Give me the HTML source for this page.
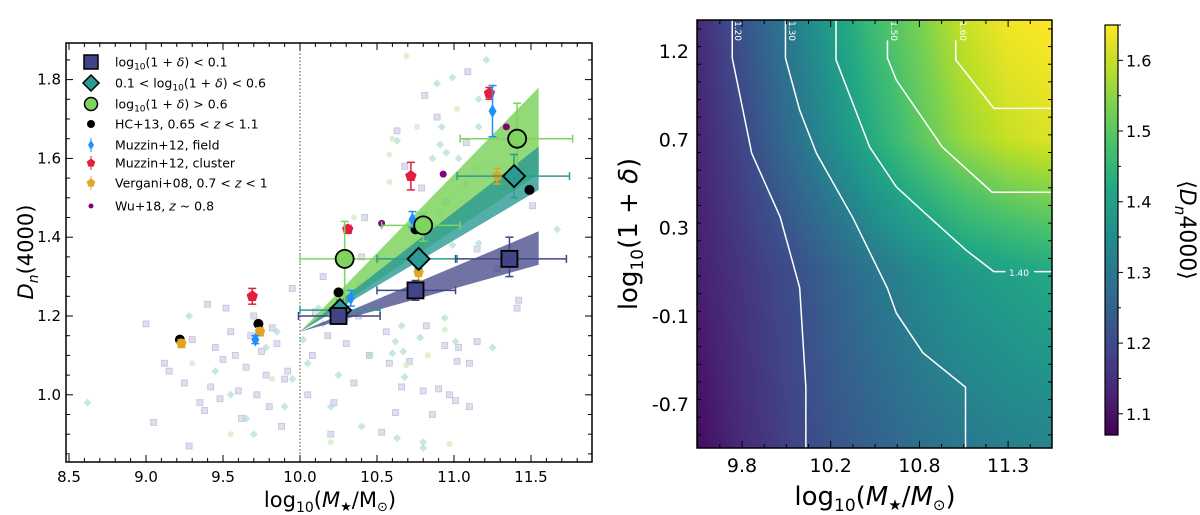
<!DOCTYPE html>
<html><head><meta charset="utf-8">
<style>
body{margin:0;background:#fff;width:1200px;height:515px;overflow:hidden}
svg{position:absolute;left:0;top:0}
text{font-family:"DejaVu Sans","Liberation Sans",sans-serif}
</style></head>
<body>
<canvas id="heat" width="355" height="428" style="position:absolute;left:697px;top:20px"></canvas>
<svg id="chart" width="1200" height="515"></svg>
<script>
// ---------- LEFT PANEL DATA ----------
const sqMass=[10.25,10.75,11.36], sqD=[1.20,1.265,1.345], sqXlo=[9.99,10.5,11.01], sqXhi=[10.52,11.01,11.73], sqYlo=[1.18,1.24,1.30], sqYhi=[1.22,1.29,1.40];
const diMass=[10.26,10.77,11.39], diD=[1.215,1.345,1.555], diXlo=[10.0,10.5,11.02], diXhi=[10.52,11.02,11.75], diYlo=[1.19,1.32,1.50], diYhi=[1.24,1.37,1.61];
const ciMass=[10.29,10.80,11.41], ciD=[1.345,1.43,1.65], ciXlo=[10.0,10.53,11.04], ciXhi=[10.51,11.04,11.77], ciYlo=[1.19,1.39,1.56], ciYhi=[1.44,1.46,1.74];
const bandEndMass=11.55, bandStart=[10.0,1.16];
const bandBlue=[1.33,1.415], bandTeal=[1.52,1.63], bandGreen=[1.56,1.78];
const hcMass=[9.22,9.73,10.25,10.75,11.49], hcD=[1.14,1.18,1.26,1.42,1.52];
const mfMass=[9.71,10.33,10.73,11.25], mfD=[1.14,1.245,1.445,1.72], mfErr=[0.01,0.02,0.02,0.065];
const mcMass=[9.69,10.31,10.72,11.23], mcD=[1.25,1.42,1.555,1.765], mcErr=[0.02,0.01,0.035,0.015];
const vgMass=[9.23,9.74,10.25,10.77,11.28], vgD=[1.13,1.16,1.22,1.31,1.555], vgErr=[0.01,0.01,0.01,0.02,0.02];
const wuMass=[10.53,10.93,11.34], wuD=[1.435,1.56,1.68];
const bgSqM=[9.0,9.05,9.15,9.25,9.3,9.35,9.4,9.45,9.5,9.55,9.6,9.62,9.65,9.7,9.75,9.8,9.85,9.9,9.95,9.48,9.58,9.68,9.78,9.88,9.38,9.28,9.12,9.42,9.52,9.72,9.82,9.92,10.05,10.1,10.15,10.2,10.3,10.35,10.4,10.45,10.08,10.22,10.38,10.42,10.18,
 11.09,10.81,10.89,10.63,11.08,10.68,10.79,10.95,11.51,11.15,11.28,11.42,11.41,10.56,10.82,10.94,11.15,11.03,10.58,10.71,11.02,11.1,10.66,10.8,10.9,10.97,11.01,11.1,10.62,10.86,10.53];
const bgSqD=[1.18,0.93,1.06,1.03,1.14,0.98,1.23,1.12,1.09,1.16,1.01,0.94,1.07,1.2,1.11,0.97,1.13,1.04,1.27,0.99,1.1,1.15,1.05,0.92,0.96,0.87,1.08,1.02,1.22,1.0,1.17,1.06,1.0,1.21,1.3,0.9,1.13,1.03,1.35,1.1,1.1,0.98,1.2,1.45,1.15,
 1.82,1.76,1.705,1.67,1.64,1.58,1.525,1.49,1.48,1.37,1.32,1.24,1.22,1.16,1.175,1.125,1.135,1.12,1.08,1.085,1.085,1.08,1.02,1.01,1.015,1.0,0.985,0.97,0.955,0.95,0.905];
const bgDiM=[8.62,9.28,9.55,9.65,9.78,9.85,9.95,10.02,10.12,10.2,10.3,10.38,10.45,9.45,9.7,9.9,10.05,10.25,10.4,10.15,
 11.21,10.89,10.99,11.16,10.92,11.16,10.63,10.91,10.95,10.86,11.03,11.15,11.08,10.91,11.16,11.67,10.99,10.94,10.66,10.78,11.25,10.62,10.67,10.6,11.01,10.68,10.63,10.8,10.8];
const bgDiD=[0.98,1.2,1.0,0.94,1.12,1.16,1.04,1.14,1.22,0.97,1.35,1.28,1.1,1.06,0.9,0.97,1.08,1.05,0.92,1.18,
 1.85,1.79,1.805,1.75,1.68,1.68,1.645,1.635,1.615,1.6,1.6,1.575,1.535,1.46,1.385,1.42,1.38,1.195,1.175,1.145,1.12,1.135,1.11,1.105,1.135,1.045,0.89,0.88,0.865];
const bgCiM=[9.3,9.55,9.82,10.1,10.35,10.2,10.69,11.02,10.6,10.58,10.58,10.76,10.94,10.83,10.97,10.69];
const bgCiD=[1.08,0.9,1.04,1.2,1.45,0.88,1.86,1.725,1.65,1.61,1.54,1.68,1.165,1.1,0.875,1.075];
const xTicks=[8.5,9.0,9.5,10.0,10.5,11.0,11.5], yTicks=[1.0,1.2,1.4,1.6,1.8];

// ---------- RIGHT PANEL DATA ----------
const hmRows=[20,139,272,448];
const hmVals=[
 [1.14,1.22,1.30,1.39,1.47,1.53,1.60,1.64,1.65],
 [1.13,1.19,1.27,1.35,1.43,1.50,1.56,1.60,1.62],
 [1.12,1.16,1.20,1.25,1.30,1.34,1.38,1.40,1.42],
 [1.09,1.14,1.18,1.22,1.25,1.28,1.30,1.32,1.33]];
const rxTicks=["9.8","10.2","10.8","11.3"], ryTicks=["1.2","0.7","0.3","-0.1","-0.7"];
const cbTicks=[1.1,1.2,1.3,1.4,1.5,1.6];
const contourLevels=["1.20","1.30","1.40","1.50","1.60"];
const contourU=[[-0.11,-0.11,-0.02,0.11,0.43,0.65,0.72,0.72],[0.49,0.49,0.65,0.84,1.25,1.64,1.74,2.04,2.52,2.52],[1.06,1.06,1.44,1.74,2.11,2.53,2.84,2.97],[1.64,1.64,1.74,2.26,2.82,3.48],[2.41,2.41,2.84,3.48]];
const contourR=[[-0.35,0.08,0.52,1.16,1.88,2.68,3.81,4.5],[-0.35,0.08,0.67,1.16,1.89,2.69,2.97,3.42,3.81,4.5],[-0.35,0.1,1.09,1.54,1.88,2.26,2.5,2.5],[-0.12,0.08,0.33,1.09,1.6,1.6],[-0.12,0.1,0.65,0.65]];

// ---------- DRAW ----------
const NS="http://www.w3.org/2000/svg", svg=document.getElementById('chart');
function el(tag,attrs,parent,txt){const e=document.createElementNS(NS,tag);for(const k in attrs)e.setAttribute(k,attrs[k]);if(txt!==undefined)e.textContent=txt;(parent||svg).appendChild(e);return e;}
const L={x0:66,x1:592,y0:43,y1:462};
const X=v=>300+(v-10)*154, Y=v=>316-(v-1.2)*394;

const gL=el('g',{});


const clip=el('clipPath',{id:'cl'},gL);el('rect',{x:L.x0,y:L.y0,width:L.x1-L.x0,height:L.y1-L.y0},clip);
const pg=el('g',{'clip-path':'url(#cl)'},gL);

bgSqM.forEach((m,i)=>{const r=el('rect',{x:X(m)-3,y:Y(bgSqD[i])-3,width:6,height:6,fill:'#d6d6ea',stroke:'#b4b4d2','stroke-width':0.8,opacity:0.8},pg);

});
bgDiM.forEach((m,i)=>{const x=X(m),y=Y(bgDiD[i]);const p=el('polygon',{points:`${x},${y-4} ${x+4},${y} ${x},${y+4} ${x-4},${y}`,fill:'#b2dcd4','fill-opacity':0.7},pg);

});
bgCiM.forEach((m,i)=>{const c=el('circle',{cx:X(m),cy:Y(bgCiD[i]),r:3,fill:'#d2efc4','fill-opacity':0.8},pg);

});

const dl=el('line',{x1:X(10),x2:X(10),y1:L.y0,y2:L.y1,stroke:'#444','stroke-width':1,'stroke-dasharray':'1.5,2'},pg);



function band(lohi,col,op,name){const x0=X(bandStart[0]),y0=Y(bandStart[1]),x1=X(bandEndMass);
const p=el('polygon',{points:`${x0},${y0} ${x1},${Y(lohi[1])} ${x1},${Y(lohi[0])}`,fill:col,'fill-opacity':op},pg);

}
band(bandGreen,'#7ed45f',0.85,'band-high-density');
band(bandTeal,'#2b9a94',0.8,'band-mid-density');
band(bandBlue,'#414487',0.75,'band-low-density');

function errbar(x,y,xlo,xhi,ylo,yhi,col){
 if(xlo!==null){el('line',{x1:X(xlo),x2:X(xhi),y1:Y(y),y2:Y(y),stroke:col,'stroke-width':1.5},pg);
  [xlo,xhi].forEach(v=>el('line',{x1:X(v),x2:X(v),y1:Y(y)-4,y2:Y(y)+4,stroke:col,'stroke-width':1.5},pg));}
 el('line',{x1:X(x),x2:X(x),y1:Y(ylo),y2:Y(yhi),stroke:col,'stroke-width':1.5},pg);
 [ylo,yhi].forEach(v=>el('line',{x1:X(x)-4,x2:X(x)+4,y1:Y(v),y2:Y(v),stroke:col,'stroke-width':1.5},pg));
}
function pent(x,y,r){let s='';for(let k=0;k<5;k++){const a=-Math.PI/2+k*2*Math.PI/5;s+=`${x+r*Math.cos(a)},${y+r*Math.sin(a)} `;}return s;}

hcMass.forEach((m,i)=>{const c=el('circle',{cx:X(m),cy:Y(hcD[i]),r:5,fill:'#000'},pg);

});
vgMass.forEach((m,i)=>{errbar(m,vgD[i],null,null,vgD[i]-vgErr[i],vgD[i]+vgErr[i],'#e0a525');
const p=el('polygon',{points:pent(X(m),Y(vgD[i]),5.5),fill:'#e0a525'},pg);

});
mcMass.forEach((m,i)=>{errbar(m,mcD[i],null,null,mcD[i]-mcErr[i],mcD[i]+mcErr[i],'#e0203c');
const p=el('polygon',{points:pent(X(m),Y(mcD[i]),6),fill:'#e0203c'},pg);

});
mfMass.forEach((m,i)=>{errbar(m,mfD[i],null,null,mfD[i]-mfErr[i],mfD[i]+mfErr[i],'#1e90ff');
const x=X(m),y=Y(mfD[i]);const p=el('polygon',{points:`${x},${y-7} ${x+4},${y} ${x},${y+7} ${x-4},${y}`,fill:'#1e90ff'},pg);

});
wuMass.forEach((m,i)=>{const c=el('circle',{cx:X(m),cy:Y(wuD[i]),r:3.5,fill:'#800080'},pg);

});

ciMass.forEach((m,i)=>{errbar(m,ciD[i],ciXlo[i],ciXhi[i],ciYlo[i],ciYhi[i],'#7ed45f');});
diMass.forEach((m,i)=>{errbar(m,diD[i],diXlo[i],diXhi[i],diYlo[i],diYhi[i],'#2b9a94');});
sqMass.forEach((m,i)=>{errbar(m,sqD[i],sqXlo[i],sqXhi[i],sqYlo[i],sqYhi[i],'#414487');});
ciMass.forEach((m,i)=>{const c=el('circle',{cx:X(m),cy:Y(ciD[i]),r:9,fill:'#7ed45f',stroke:'#000','stroke-width':1.8},pg);

});
diMass.forEach((m,i)=>{const x=X(m),y=Y(diD[i]);const p=el('polygon',{points:`${x},${y-11} ${x+11},${y} ${x},${y+11} ${x-11},${y}`,fill:'#2b9a94',stroke:'#000','stroke-width':1.8},pg);

});
sqMass.forEach((m,i)=>{const r=el('rect',{x:X(m)-8,y:Y(sqD[i])-8,width:16,height:16,fill:'#414487',stroke:'#000','stroke-width':1.8},pg);

});

// frame + ticks
el('rect',{x:L.x0,y:L.y0,width:L.x1-L.x0,height:L.y1-L.y0,fill:'none',stroke:'#000','stroke-width':1.5},gL);
for(let v=8.5;v<=11.91;v+=0.1){const x=X(v);if(x<L.x0||x>L.x1)continue;const maj=Math.abs(v*2-Math.round(v*2))<0.01;const len=maj?7:4;
 el('line',{x1:x,x2:x,y1:L.y1,y2:L.y1-len,stroke:'#000'},gL);el('line',{x1:x,x2:x,y1:L.y0,y2:L.y0+len,stroke:'#000'},gL);}
for(let v=0.85;v<=1.9;v+=0.05){const y=Y(v);if(y<L.y0||y>L.y1)continue;const maj=Math.abs(v*5-Math.round(v*5))<0.01;const len=maj?7:4;
 el('line',{x1:L.x0,x2:L.x0+len,y1:y,y2:y,stroke:'#000'},gL);el('line',{x1:L.x1,x2:L.x1-len,y1:y,y2:y,stroke:'#000'},gL);}
xTicks.forEach(v=>{const t=el('text',{x:X(v),y:482,'font-size':15,'text-anchor':'middle'},gL,v.toFixed(1));

});
yTicks.forEach(v=>{const t=el('text',{x:L.x0-5,y:Y(v)+5,'font-size':15,'text-anchor':'end'},gL,v.toFixed(1));

});
const xt=el('text',{x:330,y:507,'font-size':21,'text-anchor':'middle'},gL);xt.innerHTML='log<tspan font-size="14" dy="5">10</tspan><tspan dy="-5">(</tspan><tspan font-style="italic">M</tspan><tspan font-size="13" dy="4">★</tspan><tspan dy="-4">/M</tspan><tspan font-size="13" dy="4">⊙</tspan><tspan dy="-4">)</tspan>';


const yt=el('text',{x:0,y:0,'font-size':21,'text-anchor':'middle',transform:'translate(33,252) rotate(-90)'},gL);yt.innerHTML='<tspan font-style="italic">D</tspan><tspan font-style="italic" font-size="14" dy="5">n</tspan><tspan dy="-5">(4000)</tspan>';



// legend
const lg=el('g',{},gL);


const ly=[62,83,104,124,145,163,183,206];
const lt=['log<tspan font-size="9" dy="3">10</tspan><tspan dy="-3">(1 + </tspan><tspan font-style="italic">δ</tspan>) &lt; 0.1','0.1 &lt; log<tspan font-size="9" dy="3">10</tspan><tspan dy="-3">(1 + </tspan><tspan font-style="italic">δ</tspan>) &lt; 0.6','log<tspan font-size="9" dy="3">10</tspan><tspan dy="-3">(1 + </tspan><tspan font-style="italic">δ</tspan>) &gt; 0.6','HC+13, 0.65 &lt; <tspan font-style="italic">z</tspan> &lt; 1.1','Muzzin+12, field','Muzzin+12, cluster','Vergani+08, 0.7 &lt; <tspan font-style="italic">z</tspan> &lt; 1','Wu+18, <tspan font-style="italic">z</tspan> ~ 0.8'];
const mx=91;
el('rect',{x:mx-7,y:ly[0]-7,width:14,height:14,fill:'#414487',stroke:'#000','stroke-width':1.5},lg);
el('polygon',{points:`${mx},${ly[1]-8} ${mx+8},${ly[1]} ${mx},${ly[1]+8} ${mx-8},${ly[1]}`,fill:'#2b9a94',stroke:'#000','stroke-width':1.5},lg);
el('circle',{cx:mx,cy:ly[2],r:6.5,fill:'#7ed45f',stroke:'#000','stroke-width':1.5},lg);
el('circle',{cx:mx,cy:ly[3],r:4,fill:'#000'},lg);
el('line',{x1:mx,x2:mx,y1:ly[4]-7,y2:ly[4]+7,stroke:'#1e90ff'},lg);el('polygon',{points:`${mx},${ly[4]-5} ${mx+3},${ly[4]} ${mx},${ly[4]+5} ${mx-3},${ly[4]}`,fill:'#1e90ff'},lg);
el('line',{x1:mx,x2:mx,y1:ly[5]-7,y2:ly[5]+7,stroke:'#e0203c'},lg);el('polygon',{points:pent(mx,ly[5],4.5),fill:'#e0203c'},lg);
el('line',{x1:mx,x2:mx,y1:ly[6]-7,y2:ly[6]+7,stroke:'#e0a525'},lg);el('polygon',{points:pent(mx,ly[6],4.5),fill:'#e0a525'},lg);
el('circle',{cx:mx,cy:ly[7],r:2.5,fill:'#800080'},lg);
lt.forEach((s,i)=>{const t=el('text',{x:115,y:ly[i]+4.5,'font-size':12.5},lg);t.innerHTML=s;

});

// ---------- RIGHT PANEL ----------
const R={x0:697,x1:1052,y0:20,y1:448};
const UX=u=>742+u*88.7, RY=r=>51+r*88.25;
const vir=['#440154','#482475','#414487','#355f8d','#2a788e','#21918c','#22a884','#44bf70','#7ad151','#bddf26','#fde725'];
const vmin=1.07,vmax=1.65;
function hex(h){return [1,3,5].map(i=>parseInt(h.substr(i,2),16));}
function vcol(v){let t=(v-vmin)/(vmax-vmin);t=Math.max(0,Math.min(1,t))*10;const i=Math.min(9,Math.floor(t)),f=t-i;const a=hex(vir[i]),b=hex(vir[i+1]);return a.map((c,k)=>Math.round(c+(b[k]-c)*f));}
const ctx=document.getElementById('heat').getContext('2d');
const img=ctx.createImageData(355,428);
for(let py=0;py<428;py++){const Yp=py+20;let ri=0;while(ri<hmRows.length-2&&Yp>hmRows[ri+1])ri++;const fr=Math.max(0,Math.min(1,(Yp-hmRows[ri])/(hmRows[ri+1]-hmRows[ri])));
 for(let px=0;px<355;px++){const c=px/354*8;const ci=Math.min(7,Math.floor(c)),fc=c-ci;
  const a=hmVals[ri][ci]*(1-fc)+hmVals[ri][ci+1]*fc,b=hmVals[ri+1][ci]*(1-fc)+hmVals[ri+1][ci+1]*fc;
  const col=vcol(a*(1-fr)+b*fr);const k=(py*355+px)*4;img.data[k]=col[0];img.data[k+1]=col[1];img.data[k+2]=col[2];img.data[k+3]=255;}}
ctx.putImageData(img,0,0);

const gR=el('g',{});


contourU.forEach((us,i)=>{const pts=us.map((u,j)=>`${UX(u)},${RY(contourR[i][j])}`).join(' ');
 const p=el('polyline',{points:pts,fill:'none',stroke:'#fff','stroke-width':1.5},gR);
 
 });
// right stub of 1.40 after label
const stub=el('line',{x1:1034,x2:R.x1,y1:RY(2.5),y2:RY(2.5),stroke:'#fff','stroke-width':1.5},gR);


[[0,732],[1,786],[3,888],[4,957]].forEach(([i,x])=>{const t=el('text',{x:0,y:0,'font-size':9,fill:'#fff','text-anchor':'middle',transform:`translate(${x+3},31) rotate(90)`},gR,contourLevels[i]);

});
const l14=el('text',{x:1019,y:276,'font-size':9,fill:'#fff','text-anchor':'middle'},gR,contourLevels[2]);



el('rect',{x:R.x0,y:R.y0,width:R.x1-R.x0,height:R.y1-R.y0,fill:'none',stroke:'#000','stroke-width':1.5},gR);
for(let k=-0.5;k<=3.51;k+=0.25){const x=UX(k);if(x<R.x0||x>R.x1)continue;const maj=Math.abs(k-Math.round(k))<0.01;const len=maj?7:4;
 el('line',{x1:x,x2:x,y1:R.y1,y2:R.y1-len,stroke:'#000'},gR);el('line',{x1:x,x2:x,y1:R.y0,y2:R.y0+len,stroke:'#000'},gR);}
for(let k=-0.25;k<=4.5;k+=0.2){const y=RY(k);if(y<R.y0||y>R.y1)continue;const maj=Math.abs(k-Math.round(k))<0.01;const len=maj?7:4;
 el('line',{x1:R.x0,x2:R.x0+len,y1:y,y2:y,stroke:'#000'},gR);el('line',{x1:R.x1,x2:R.x1-len,y1:y,y2:y,stroke:'#000'},gR);}
rxTicks.forEach((s,i)=>{const t=el('text',{x:UX(i),y:472,'font-size':19,'text-anchor':'middle'},gR,s);

});
ryTicks.forEach((s,i)=>{const t=el('text',{x:R.x0-8,y:RY(i)+7,'font-size':19,'text-anchor':'end'},gR,s);

});
const rxt=el('text',{x:875,y:505,'font-size':26,'text-anchor':'middle'},gR);rxt.innerHTML='log<tspan font-size="17" dy="6">10</tspan><tspan dy="-6">(</tspan><tspan font-style="italic">M</tspan><tspan font-size="15" dy="5">★</tspan><tspan dy="-5">/</tspan><tspan font-style="italic">M</tspan><tspan font-size="15" dy="5">⊙</tspan><tspan dy="-5">)</tspan>';


const ryt=el('text',{x:0,y:0,'font-size':26,'text-anchor':'middle',transform:'translate(637,234) rotate(-90)'},gR);ryt.innerHTML='log<tspan font-size="17" dy="6">10</tspan><tspan dy="-6">(1 + </tspan><tspan font-style="italic">δ</tspan>)';



// colorbar
const cg=el('g',{});


const defs=el('defs',{},cg);const gr=el('linearGradient',{id:'vg',x1:0,y1:1,x2:0,y2:0},defs);
vir.forEach((c,i)=>el('stop',{offset:(i/10),'stop-color':c},gr));
const C={x:1105,w:13,y0:25,y1:435};
el('rect',{x:C.x,y:C.y0,width:C.w,height:C.y1-C.y0,fill:'url(#vg)',stroke:'#000','stroke-width':1.2},cg);
const CY=v=>C.y1-(v-vmin)/(vmax-vmin)*(C.y1-C.y0);
for(let v=1.1;v<=1.651;v+=0.05){const y=CY(v);const maj=Math.abs(v*10-Math.round(v*10))<0.01;
 el('line',{x1:C.x+C.w,x2:C.x+C.w+(maj?5:3),y1:y,y2:y,stroke:'#000'},cg);}
cbTicks.forEach(v=>{const t=el('text',{x:C.x+C.w+8,y:CY(v)+6,'font-size':16},cg,v.toFixed(1));

});
const cbt=el('text',{x:0,y:0,'font-size':22,'text-anchor':'middle',transform:'translate(1180,230) rotate(90)'},cg);cbt.innerHTML='⟨<tspan font-style="italic">D</tspan><tspan font-style="italic" font-size="15" dy="5">n</tspan><tspan dy="-5">4000⟩</tspan>';


</script>
</body></html>
